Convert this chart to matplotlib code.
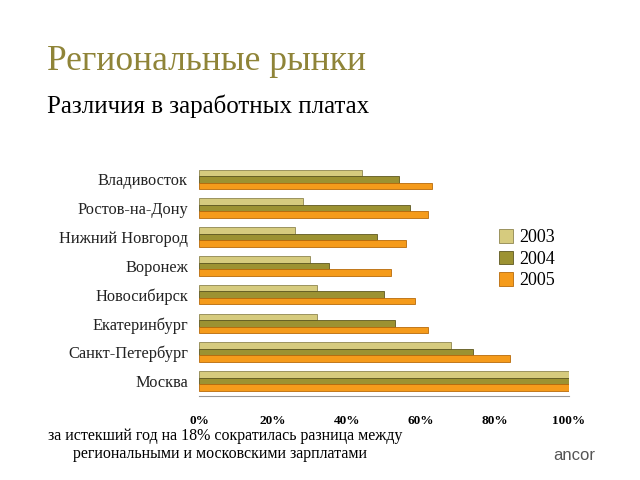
import matplotlib
matplotlib.use("Agg")
import matplotlib.pyplot as plt
import numpy as np
from matplotlib.patches import Patch

cities = ["Владивосток", "Ростов-на-Дону", "Нижний Новгород", "Воронеж",
          "Новосибирск", "Екатеринбург", "Санкт-Петербург", "Москва"]
v2003 = [44, 28, 26, 30, 32, 32, 68, 100]
v2004 = [54, 57, 48, 35, 50, 53, 74, 100]
v2005 = [63, 62, 56, 52, 58.5, 62, 84, 100]
years = ["2003", "2004", "2005"]
xticks = [0, 20, 40, 60, 80, 100]

colors = ["#D6CB7E", "#9C9232", "#F59B1B"]
edges = ["#8E8650", "#5E5820", "#B86A0A"]

plt.rcParams['font.family'] = ['Liberation Serif', 'DejaVu Serif']

fig = plt.figure(figsize=(6.4, 4.8), dpi=100)
fig.patch.set_facecolor("white")

ax = fig.add_axes([199/640, 1-396/480, 370/640, 231/480])
n = len(cities)
pos = np.arange(n)[::-1]  # first city at top
h = 0.225
series = [v2003, v2004, v2005]
for i, vals in enumerate(series):
    ax.barh(pos + (1 - i) * h, vals, height=h, color=colors[i],
            edgecolor=edges[i], linewidth=0.6, label=years[i])

ax.set_xlim(0, 100)
ax.set_ylim(-0.52, n - 0.5)
ax.set_yticks(pos)
ax.set_yticklabels(cities, fontsize=11.8, color="#222222")
ax.tick_params(axis='y', length=0, pad=8)
ax.set_xticks(xticks)
ax.set_xticklabels([f"{t}%" for t in xticks], fontsize=9.5, fontweight='bold')
ax.tick_params(axis='x', length=0, pad=14)
for s in ["top", "right", "left"]:
    ax.spines[s].set_visible(False)
ax.spines["bottom"].set_color("#999999")
ax.spines["bottom"].set_linewidth(0.8)

handles = [Patch(facecolor=colors[i], edgecolor=edges[i], linewidth=0.6) for i in range(3)]
leg = fig.legend(handles, years, loc='upper left', bbox_to_anchor=(483/640, 1-213/480),
                 frameon=False, fontsize=13, handlelength=0.75, handleheight=0.75,
                 handletextpad=0.35, labelspacing=0.25)

fig.text(47/640, 1-62/480, "Региональные рынки", fontsize=25.5, color="#8F8438",
         va='center', ha='left')
fig.text(47/640, 1-106/480, "Различия в заработных платах", fontsize=18, color="black",
         va='center', ha='left')
fig.text(48/640, 1-436/480, "за истекший год на 18% сократилась разница между",
         fontsize=11.5, va='center', ha='left')
fig.text(220/640, 1-454/480, "региональными и московскими зарплатами",
         fontsize=11.5, va='center', ha='center')
fig.text(553/640, 1-455/480, "ancor", fontsize=12, color="#555555",
         family=['Liberation Sans', 'DejaVu Sans'], va='center', ha='left')

fig.savefig("out.png", dpi=100)
